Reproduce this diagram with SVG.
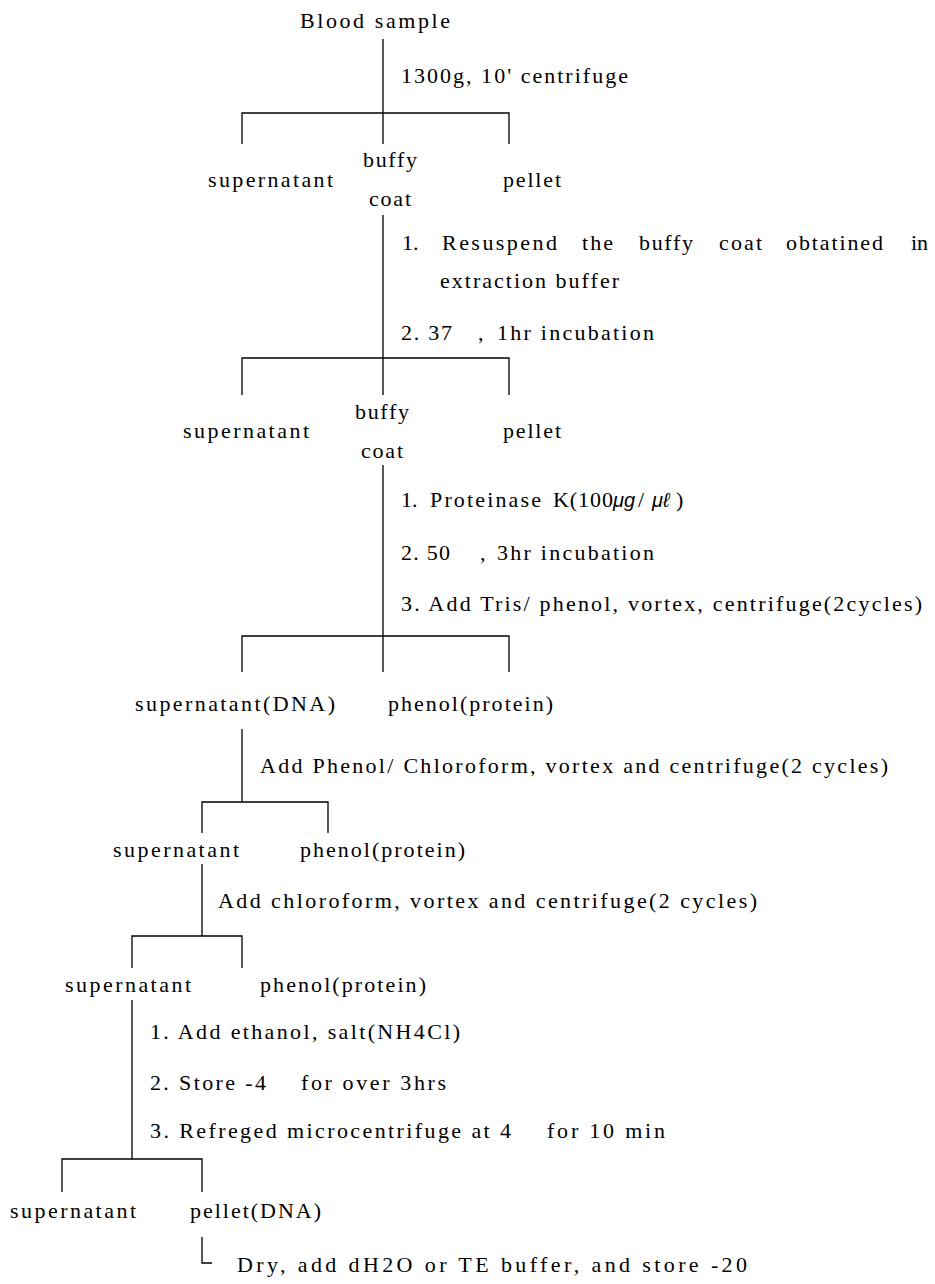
<svg xmlns="http://www.w3.org/2000/svg" width="935" height="1284" viewBox="0 0 935 1284">
<style>
.t{font-family:"Liberation Serif","Times New Roman",serif;font-size:22px;fill:#000}
.i{font-family:"Liberation Sans",Arial,sans-serif;font-style:italic;font-size:20px}
.ln{stroke:#000;stroke-width:1.3;fill:none}
</style>
<rect width="935" height="1284" fill="#fff"/>
<g id="connectors" class="ln">
<path d="M383 39V144M242 144V113H509V144"/>
<path d="M383 215V395M242 395V358H509V395"/>
<path d="M383 465V672M242 672V636H509V672"/>
<path d="M242 729V802M202 833V802H328V833"/>
<path d="M202 864V936M132 968V936H242V968"/>
<path d="M132 1000V1159M62 1192V1159H202V1192"/>
<path d="M202 1237V1263H212"/>
</g>
<g id="n-blood"><text class="t" x="300" y="28" textLength="150" lengthAdjust="spacing">Blood sample</text></g>
<g id="s-1"><text class="t" x="401" y="83" textLength="227" lengthAdjust="spacing">1300g, 10' centrifuge</text></g>
<g id="n-sup1"><text class="t" x="208" y="187" textLength="125" lengthAdjust="spacing">supernatant</text></g>
<g id="n-buffy1"><text class="t" x="363" y="167" textLength="54" lengthAdjust="spacing">buffy</text><text class="t" x="369" y="206" textLength="42" lengthAdjust="spacing">coat</text></g>
<g id="n-pellet1"><text class="t" x="503" y="187" textLength="58" lengthAdjust="spacing">pellet</text></g>
<g id="s-2">
<text class="t" y="250"><tspan x="402">1.</tspan><tspan x="442" textLength="115" lengthAdjust="spacing">Resuspend</tspan><tspan x="582" textLength="31" lengthAdjust="spacing">the</tspan><tspan x="639" textLength="54" lengthAdjust="spacing">buffy</tspan><tspan x="719" textLength="43" lengthAdjust="spacing">coat</tspan><tspan x="786" textLength="97" lengthAdjust="spacing">obtatined</tspan><tspan x="911">in</tspan></text>
<text class="t" x="440" y="288" textLength="179" lengthAdjust="spacing">extraction buffer</text>
<text class="t" y="340"><tspan x="401" textLength="51" lengthAdjust="spacing">2. 37</tspan><tspan x="478">,</tspan><tspan x="497" textLength="157" lengthAdjust="spacing">1hr incubation</tspan></text>
</g>
<g id="n-sup2"><text class="t" x="183" y="438" textLength="126" lengthAdjust="spacing">supernatant</text></g>
<g id="n-buffy2"><text class="t" x="355" y="419" textLength="54" lengthAdjust="spacing">buffy</text><text class="t" x="361" y="458" textLength="42" lengthAdjust="spacing">coat</text></g>
<g id="n-pellet2"><text class="t" x="503" y="438" textLength="58" lengthAdjust="spacing">pellet</text></g>
<g id="s-3">
<text class="t" y="507"><tspan x="401">1.</tspan><tspan x="430" textLength="111" lengthAdjust="spacing">Proteinase</tspan><tspan x="553" textLength="60" lengthAdjust="spacing">K(100</tspan><tspan class="i" x="613">μg</tspan><tspan x="638">/</tspan><tspan class="i" x="652">μℓ</tspan><tspan x="676">)</tspan></text>
<text class="t" y="560"><tspan x="401" textLength="49" lengthAdjust="spacing">2. 50</tspan><tspan x="480">,</tspan><tspan x="497" textLength="157" lengthAdjust="spacing">3hr incubation</tspan></text>
<text class="t" x="401" y="611" textLength="521" lengthAdjust="spacing">3. Add Tris/ phenol, vortex, centrifuge(2cycles)</text>
</g>
<g id="n-supDNA"><text class="t" x="135" y="711" textLength="200" lengthAdjust="spacing">supernatant(DNA)</text></g>
<g id="n-phenol1"><text class="t" x="388" y="711" textLength="165" lengthAdjust="spacing">phenol(protein)</text></g>
<g id="s-4"><text class="t" x="260" y="773" textLength="628" lengthAdjust="spacing">Add Phenol/ Chloroform, vortex and centrifuge(2 cycles)</text></g>
<g id="n-sup3"><text class="t" x="113" y="857" textLength="126" lengthAdjust="spacing">supernatant</text></g>
<g id="n-phenol2"><text class="t" x="300" y="857" textLength="165" lengthAdjust="spacing">phenol(protein)</text></g>
<g id="s-5"><text class="t" x="218" y="908" textLength="539" lengthAdjust="spacing">Add chloroform, vortex and centrifuge(2 cycles)</text></g>
<g id="n-sup4"><text class="t" x="65" y="992" textLength="126" lengthAdjust="spacing">supernatant</text></g>
<g id="n-phenol3"><text class="t" x="260" y="992" textLength="166" lengthAdjust="spacing">phenol(protein)</text></g>
<g id="s-6">
<text class="t" x="150" y="1039" textLength="310" lengthAdjust="spacing">1. Add ethanol, salt(NH4Cl)</text>
<text class="t" y="1090"><tspan x="150" textLength="116" lengthAdjust="spacing">2. Store -4</tspan><tspan x="301" textLength="145" lengthAdjust="spacing">for over 3hrs</tspan></text>
<text class="t" y="1138"><tspan x="150" textLength="361" lengthAdjust="spacing">3. Refreged microcentrifuge at 4</tspan><tspan x="547" textLength="118" lengthAdjust="spacing">for 10 min</tspan></text>
</g>
<g id="n-sup5"><text class="t" x="10" y="1218" textLength="126" lengthAdjust="spacing">supernatant</text></g>
<g id="n-pelletDNA"><text class="t" x="190" y="1218" textLength="131" lengthAdjust="spacing">pellet(DNA)</text></g>
<g id="s-7"><text class="t" x="237" y="1272" textLength="510" lengthAdjust="spacing">Dry, add dH2O or TE buffer, and store -20</text></g>
</svg>
